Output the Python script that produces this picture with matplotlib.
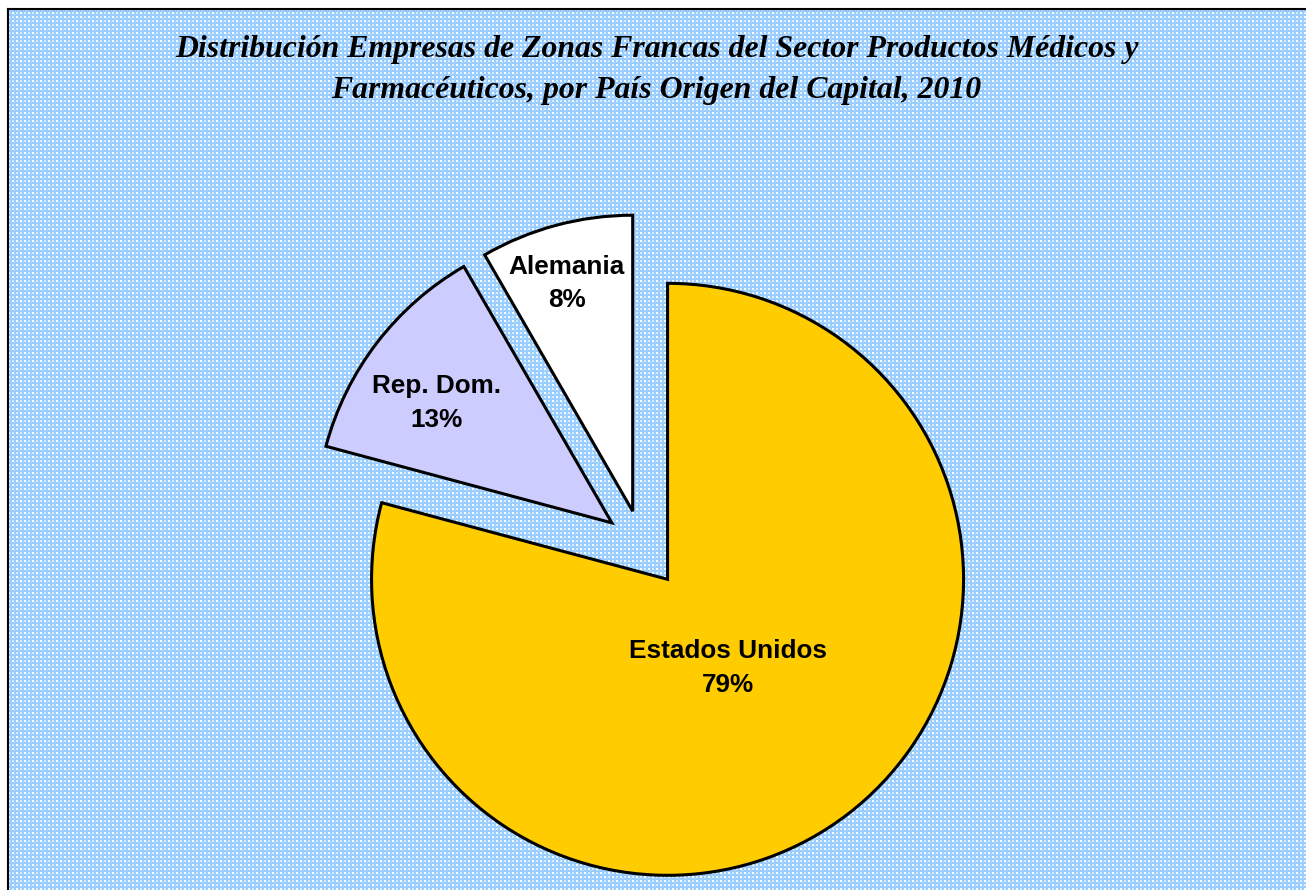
import numpy as np
import matplotlib
matplotlib.use("Agg")
import matplotlib.pyplot as plt

# ---- data ----
categories = ["Estados Unidos", "Rep. Dom.", "Alemania"]
counts = [19, 3, 2]
pct_labels = ["79%", "13%", "8%"]
colors = ["#FFCC00", "#CCCCFF", "#FFFFFF"]
title_lines = ["Distribución Empresas de Zonas Francas del Sector Productos Médicos y",
               "Farmacéuticos, por País Origen del Capital, 2010"]

W, H = 1306, 890
R_PX = 296.0
CX, CY = 642.0, 546.0  # pie centre in pixels (y from top)

fig = plt.figure(figsize=(W / 100, H / 100), dpi=100)
fig.patch.set_facecolor("white")

# background pattern (blue/white small checks) inside frame
B = [153, 204, 255]
tile = np.full((8, 8, 3), B, dtype=np.uint8)
tile[0:2, 0:2] = [255, 255, 255]
tile[4:6, 4:6] = [255, 255, 255]
tile[0:2, 4:6] = [214, 236, 255]
tile[4:6, 0:2] = [214, 236, 255]
tile[2, 2] = [200, 228, 255]
tile[6, 6] = [200, 228, 255]
bg = np.tile(tile, (H // 8 + 1, W // 8 + 1, 1))[:H, :W].copy()
bg[:9, :] = 255
bg[:, :8] = 255
im = fig.figimage(bg, xo=0, yo=0, origin="upper")
im.set_zorder(-5)

# axes with 1 data unit = radius
ax = fig.add_axes([0, 0, 1, 1])
ax.set_zorder(1)
ax.patch.set_visible(False)

explode = [42 / R_PX, 38 / R_PX, 36 / R_PX]
wedges, _ = ax.pie(counts, colors=colors, startangle=90, counterclock=False,
                   explode=explode, radius=1.0, center=(0, 0),
                   wedgeprops=dict(edgecolor="black", linewidth=2.2))

ax.set_xlim(-CX / R_PX, (W - CX) / R_PX)
ax.set_ylim(-(H - CY) / R_PX, CY / R_PX)
ax.set_aspect("auto")
ax.axis("off")

# label offsets from each wedge's (exploded) apex, in radius units
label_off = [(0.203, -0.300), (-0.591, 0.405), (-0.223, 0.770)]
for w, name, pct, (dx, dy) in zip(wedges, categories, pct_labels, label_off):
    cx, cy = w.center
    ax.text(cx + dx, cy + dy, f"{name}\n{pct}",
            ha="center", va="center", fontsize=18.8, fontweight="bold",
            family="Liberation Sans", linespacing=1.5)

# frame (left and top)
x_l = (8 - CX) / R_PX
y_t = (CY - 9) / R_PX
ax.plot([x_l, x_l], [-(H - CY) / R_PX - 1, y_t], color="black", lw=1.5,
        clip_on=False, zorder=5, solid_capstyle="projecting")
ax.plot([x_l, (W - CX) / R_PX + 1], [y_t, y_t], color="black", lw=1.5,
        clip_on=False, zorder=5, solid_capstyle="projecting")

# title
for line, base in zip(title_lines, [57, 98]):
    fig.text(656.5 / W, 1 - base / H, line, ha="center", va="baseline",
             fontsize=22.9, fontweight="bold", fontstyle="italic",
             family="Liberation Serif", zorder=10)

fig.savefig("out.png", dpi=100)
